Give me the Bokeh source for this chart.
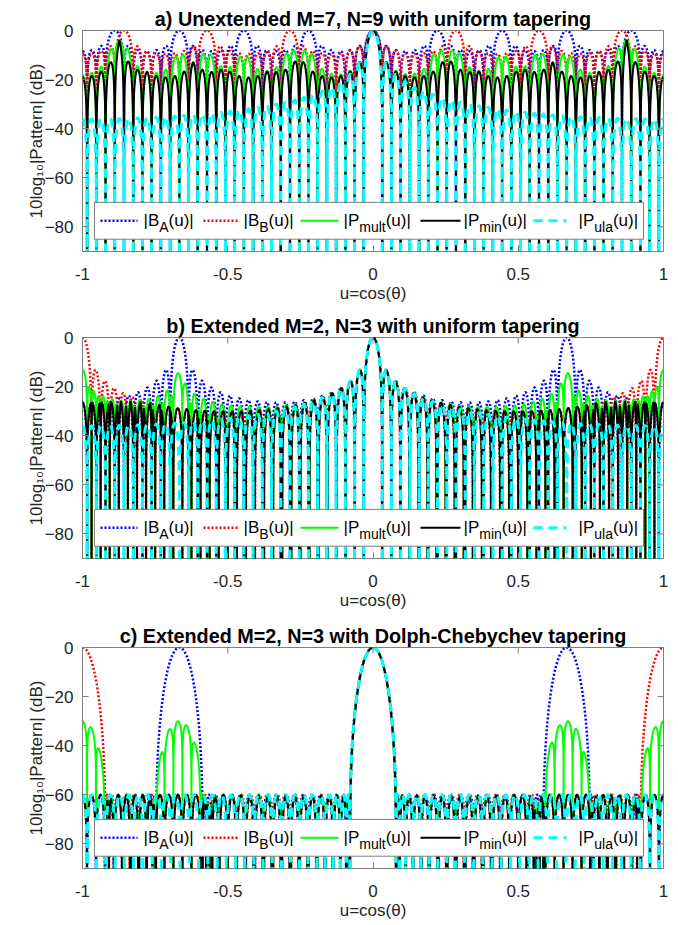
import numpy as np
from bokeh.plotting import figure
from bokeh.layouts import column
from bokeh.models import Range1d, FixedTicker, NumeralTickFormatter
from bokeh.core.properties import value
from bokeh.embed import file_html
from bokeh.resources import INLINE

# ---------------- data (array geometry) ----------------
panel_titles = [
    "a) Unextended M=7, N=9 with uniform tapering",
    "b) Extended M=2, N=3 with uniform tapering",
    "c) Extended M=2, N=3 with Dolph-Chebychev tapering",
]
sensors_A = [7, 21, 21]        # subarray A (blue) sensor count
spacing_A = [9, 3, 3]          # subarray A spacing (half wavelengths)
sensors_B = [9, 32, 32]        # subarray B (red) sensor count
spacing_B = [7, 2, 2]          # subarray B spacing (half wavelengths)
sensors_ula = [63, 63, 63]     # full ULA sensor count (spacing 1)
tapering = ["uniform", "uniform", "chebyshev"]
sidelobe_db = [-60.0, -60.0, -60.0]
subarray_db_factor = [10, 20, 20]   # 10log10|B| (amplitude) in a), power in b), c)
u_ticks = [-1, -0.5, 0, 0.5, 1]
db_ticks = [-80, -60, -40, -20, 0]
legend_main = ["|B", "|B", "|P", "|P", "|P"]
legend_sub = ["A", "B", "mult", "min", "ula"]
legend_tail = "(u)|"
x_label = "u=cos(θ)"
y_label = "10log₁₀|Pattern| (dB)"

# ---------------- styles / layout ----------------
FONT = "Liberation Sans"
FRAME_W, FRAME_H = 581, 221
PX_U = FRAME_W / 2.0
PX_DB = FRAME_H / 90.0
BOTTOM_BORDER = [56, 59, 52]
series_style = [
    dict(color="#0000ff", line_width=2.5, line_dash="2 2"),
    dict(color="#ff0000", line_width=2.5, line_dash="2 2"),
    dict(color="#00ff00", line_width=2.0, line_dash="solid"),
    dict(color="#000000", line_width=2.0, line_dash="solid"),
    dict(color="#00ffff", line_width=3.0, line_dash="9 6"),
]
legend_box_px = (12, 561)
legend_sample_px = [(18, 55), (121, 155), (218, 256), (338, 378), (451, 484)]
legend_text_px = [61, 161, 261, 381, 496]
legend_y = (-70.0, -85.0)
MAIN_FS, SUB_FS = 17, 14
TICK_LEN = 6
AW = {'|': 260, 'B': 667, 'P': 667, 'A': 667, '(': 333, 'u': 556, ')': 333,
      'm': 833, 'l': 222, 't': 278, 'i': 222, 'n': 556, 'a': 556}


def tw(s, fs):
    return sum(AW[c] for c in s) * fs / 1000.0


def array_factor(u, K, d, kind, sll):
    half = np.pi * d * u / 2.0
    if kind == "uniform":
        num = np.sin(K * half)
        den = K * np.sin(half)
        with np.errstate(divide="ignore", invalid="ignore"):
            af = num / den
        af[np.abs(den) < 1e-9] = 1.0
        return np.abs(af)
    n = K - 1
    R = 10 ** (-sll / 20.0)
    x0 = np.cosh(np.arccosh(R) / n)
    x = x0 * np.cos(half)
    ax = np.abs(x)
    inside = np.cos(n * np.arccos(np.clip(x, -1, 1)))
    outside = np.cosh(n * np.arccosh(np.maximum(ax, 1)))
    return np.abs(np.where(ax <= 1, inside, outside)) / R


def null_positions(K, d, kind, sll):
    out = []
    if kind == "uniform":
        mmax = int(np.ceil(K * d / 2.0)) + 1
        for m in range(-mmax, mmax + 1):
            if m % K != 0:
                out.append(2.0 * m / (K * d))
    else:
        n = K - 1
        R = 10 ** (-sll / 20.0)
        x0 = np.cosh(np.arccosh(R) / n)
        for pidx in range(1, n + 1):
            xp = np.cos((2 * pidx - 1) * np.pi / (2 * n))
            a = np.arccos(xp / x0)
            for k in range(-d - 2, d + 3):
                for s in (a, -a):
                    out.append(2.0 * (s + k * np.pi) / (np.pi * d))
    out = np.array(out)
    return out[np.abs(out) <= 1]


def lg(a):
    return np.log10(np.maximum(a, 1e-12))


def make_panel(i):
    kind = tapering[i]
    sll = sidelobe_db[i]
    u = np.unique(np.concatenate([
        np.linspace(-1, 1, 8001),
        null_positions(sensors_A[i], spacing_A[i], kind, sll),
        null_positions(sensors_B[i], spacing_B[i], kind, sll),
        null_positions(sensors_ula[i], 1, kind, sll),
    ]))
    lA = lg(array_factor(u, sensors_A[i], spacing_A[i], kind, sll))
    lB = lg(array_factor(u, sensors_B[i], spacing_B[i], kind, sll))
    lU = lg(array_factor(u, sensors_ula[i], 1, kind, sll))
    f = subarray_db_factor[i]
    curves = [f * lA, f * lB, 10 * (lA + lB), 20 * np.minimum(lA, lB), 20 * lU]

    p = figure(frame_width=FRAME_W, frame_height=FRAME_H,
               x_range=Range1d(-1, 1), y_range=Range1d(-90, 0),
               output_backend="svg", toolbar_location=None,
               min_border_left=82, min_border_right=7,
               min_border_top=30, min_border_bottom=BOTTOM_BORDER[i],
               background_fill_color="white", border_fill_color="white",
               title=panel_titles[i])
    p.title.align = "center"
    p.title.text_font = FONT
    p.title.text_font_size = "19.8px"
    p.title.text_font_style = "bold"
    p.title.text_color = "#000000"
    p.title.standoff = 2
    p.title.offset = 10
    p.outline_line_color = "#7f7f7f"
    p.outline_line_width = 1
    p.xgrid.visible = False
    p.ygrid.visible = False

    for ax, ticks in ((p.xaxis, u_ticks), (p.yaxis, db_ticks)):
        ax.ticker = FixedTicker(ticks=ticks)
        ax.major_label_text_font = FONT
        ax.major_label_text_font_size = "17px"
        ax.major_label_text_color = "#262626"
        ax.major_tick_in = TICK_LEN
        ax.major_tick_out = 0
        ax.minor_tick_in = 0
        ax.minor_tick_out = 0
        ax.major_tick_line_color = "#7f7f7f"
        ax.axis_line_color = None
        ax.axis_label_text_font = FONT
        ax.axis_label_text_font_size = "17px"
        ax.axis_label_text_font_style = "normal"
        ax.axis_label_text_color = "#262626"
    p.xaxis.formatter = NumeralTickFormatter(format="0.[0]")
    p.xaxis.major_label_standoff = 16
    p.xaxis.axis_label = x_label
    p.xaxis.axis_label_standoff = 1
    p.yaxis.major_label_standoff = 9
    p.yaxis.axis_label = y_label
    p.yaxis.axis_label_standoff = -4

    for c, st in zip(curves, series_style):
        p.line(u, np.maximum(c, -110), line_color=st["color"], line_width=st["line_width"],
               line_dash=st["line_dash"])

    # mirrored inward ticks on the top and right edges (box on)
    ut = np.array(u_ticks, dtype=float)
    dt = np.array(db_ticks, dtype=float)
    p.segment(x0=ut, y0=np.zeros_like(ut), x1=ut, y1=np.full_like(ut, -TICK_LEN / PX_DB),
              line_color="#7f7f7f", line_width=1)
    p.segment(x0=np.ones_like(dt), y0=dt, x1=np.full_like(dt, 1 - TICK_LEN / PX_U), y1=dt,
              line_color="#7f7f7f", line_width=1)

    # legend
    to_u = lambda px: -1 + px / PX_U
    p.quad(left=[to_u(legend_box_px[0])], right=[to_u(legend_box_px[1])],
           top=[legend_y[0]], bottom=[legend_y[1]],
           fill_color="white", line_color="#7f7f7f", line_width=1)
    yc = (legend_y[0] + legend_y[1]) / 2.0
    for k, st in enumerate(series_style):
        x0, x1 = legend_sample_px[k]
        p.line([to_u(x0), to_u(x1)], [yc, yc], line_color=st["color"],
               line_width=st["line_width"], line_dash=st["line_dash"])
        tx = legend_text_px[k]
        w_main = tw(legend_main[k], MAIN_FS)
        w_sub = tw(legend_sub[k], SUB_FS)
        p.text(x=[to_u(tx)], y=[yc], text=[legend_main[k]], text_font=value(FONT),
               text_font_size=value(f"{MAIN_FS}px"), text_baseline="middle",
               text_align="left", text_color="#000000")
        p.text(x=[to_u(tx + w_main)], y=[yc - 6.0 / PX_DB], text=[legend_sub[k]],
               text_font=value(FONT), text_font_size=value(f"{SUB_FS}px"),
               text_baseline="middle", text_align="left", text_color="#000000")
        p.text(x=[to_u(tx + w_main + w_sub)], y=[yc], text=[legend_tail],
               text_font=value(FONT), text_font_size=value(f"{MAIN_FS}px"),
               text_baseline="middle", text_align="left", text_color="#000000")
    return p


layout = column(*[make_panel(i) for i in range(3)], spacing=0)
open("out.html", "w").write(file_html(layout, INLINE))
